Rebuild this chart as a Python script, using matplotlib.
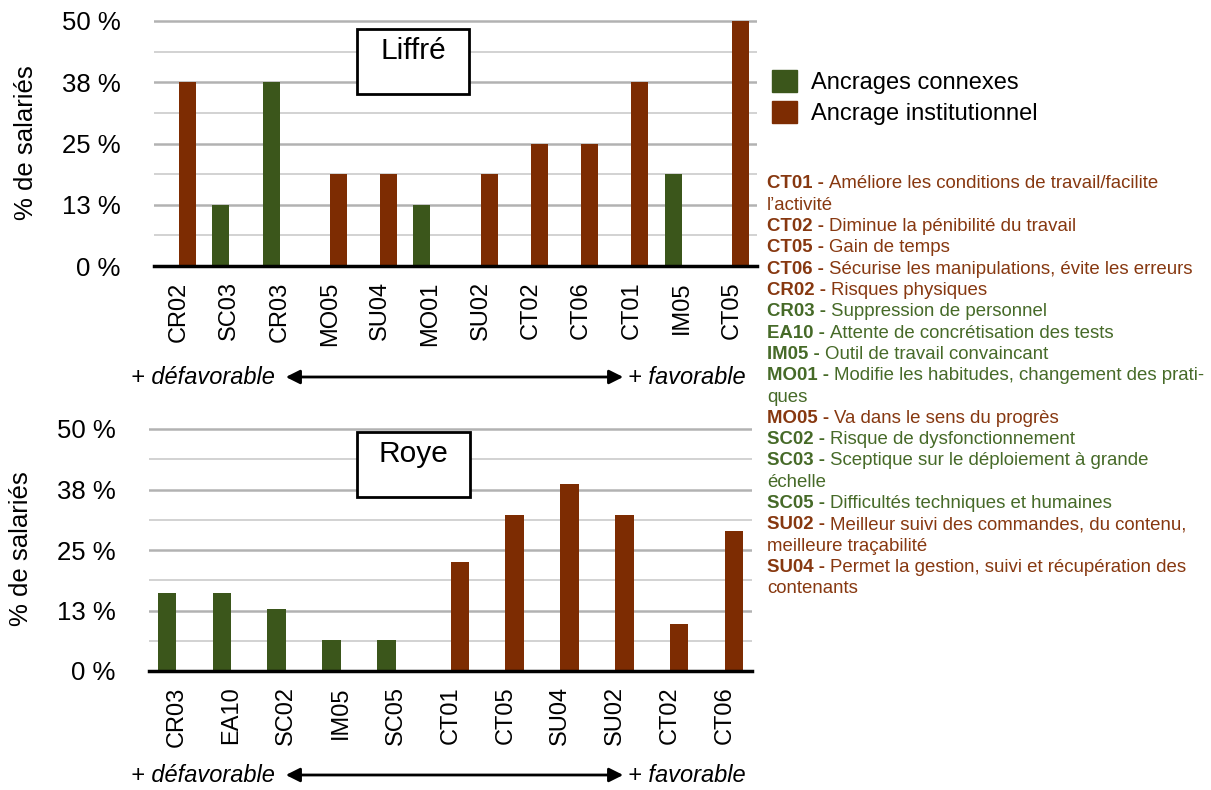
import numpy as np
import matplotlib
matplotlib.use("Agg")
import matplotlib.pyplot as plt
from matplotlib.patches import Patch, Rectangle, FancyArrowPatch

plt.rcParams['font.family'] = ['Liberation Sans', 'DejaVu Sans']

# ------------------------------------------------------------
# Data (% de salariés)
# ------------------------------------------------------------
cats_liffre = ['CR02', 'SC03', 'CR03', 'MO05', 'SU04', 'MO01',
               'SU02', 'CT02', 'CT06', 'CT01', 'IM05', 'CT05']
connexes_liffre = [0, 12.5, 37.5, 0, 0, 12.5, 0, 0, 0, 0, 18.75, 0]
instit_liffre = [37.5, 0, 0, 18.75, 18.75, 0, 18.75, 25, 25, 37.5, 0, 50]

cats_roye = ['CR03', 'EA10', 'SC02', 'IM05', 'SC05', 'CT01',
             'CT05', 'SU04', 'SU02', 'CT02', 'CT06']
connexes_roye = [16.1, 16.1, 12.9, 6.5, 6.5, 0, 0, 0, 0, 0, 0]
instit_roye = [0, 0, 0, 0, 0, 22.6, 32.3, 38.7, 32.3, 9.7, 29.0]

major_ticks = [0, 12.5, 25, 37.5, 50]
major_labels = ['0 %', '13 %', '25 %', '38 %', '50 %']
minor_ticks = [6.25, 18.75, 31.25, 43.75]

series_names = ['Ancrages connexes', 'Ancrage institutionnel']

code_list = ['CT01', 'CT02', 'CT05', 'CT06', 'CR02', 'CR03', 'EA10', 'IM05',
             'MO01', 'MO05', 'SC02', 'SC03', 'SC05', 'SU02', 'SU04']
code_text = ['Améliore les conditions de travail/facilite\nl’activité',
             'Diminue la pénibilité du travail',
             'Gain de temps',
             'Sécurise les manipulations, évite les erreurs',
             'Risques physiques',
             'Suppression de personnel',
             'Attente de concrétisation des tests',
             'Outil de travail convaincant',
             'Modifie les habitudes, changement des prati-\nques',
             'Va dans le sens du progrès',
             'Risque de dysfonctionnement',
             'Sceptique sur le déploiement à grande\néchelle',
             'Difficultés techniques et humaines',
             'Meilleur suivi des commandes, du contenu,\nmeilleure traçabilité',
             'Permet la gestion, suivi et récupération des\ncontenants']
code_group = ['inst', 'inst', 'inst', 'inst', 'inst', 'conn', 'conn', 'conn',
              'conn', 'inst', 'conn', 'conn', 'conn', 'inst', 'inst']

GREEN = '#3b561b'
BROWN = '#7d2c02'
GREEN_TXT = '#466a28'
BROWN_TXT = '#873810'

W, H = 1211, 790
fig = plt.figure(figsize=(W / 100, H / 100), dpi=100)


def fx(x):
    return x / W


def fy(y):
    return 1 - y / H


def panel(rect, cats, conn, inst, title, box):
    ax = fig.add_axes(rect)
    x = np.arange(len(cats))
    w = 0.34
    ax.bar(x - w / 2, conn, width=w, color=GREEN, zorder=3)
    ax.bar(x + w / 2, inst, width=w, color=BROWN, zorder=3)
    ax.set_xlim(-0.5, len(cats) - 0.5)
    ax.set_ylim(0, 50.4)
    ax.set_yticks(major_ticks)
    ax.set_yticklabels(major_labels)
    ax.set_yticks(minor_ticks, minor=True)
    ax.grid(axis='y', which='major', color='#b2b2b2', lw=1.8)
    ax.grid(axis='y', which='minor', color='#c6c6c6', lw=1.1)
    ax.set_axisbelow(True)
    ax.set_xticks(x)
    ax.set_xticklabels(cats, rotation=90, fontsize=17)
    ax.tick_params(axis='x', length=0, pad=11)
    ax.tick_params(axis='y', which='both', length=0, pad=24, labelsize=18.5)
    for s in ['top', 'right', 'left']:
        ax.spines[s].set_visible(False)
    ax.spines['bottom'].set_linewidth(2.5)
    ax.spines['bottom'].set_zorder(4)
    ax.set_ylabel('% de salariés', fontsize=18.5)
    ax.yaxis.set_label_coords(-0.192, 0.5)
    # title box
    x0, y0, x1, y1 = box
    fig.add_artist(Rectangle((fx(x0), fy(y1)), fx(x1 - x0), (y1 - y0) / H,
                             transform=fig.transFigure, fill=True, fc='white',
                             ec='black', lw=2, zorder=5))
    fig.text(fx((x0 + x1) / 2), fy(y0 + 30), title, fontsize=21.5,
             ha='center', va='baseline', zorder=6)
    return ax


panel([fx(154), fy(266), fx(603), 245 / H * 50.4 / 50],
      cats_liffre, connexes_liffre, instit_liffre, 'Liffré', (357, 29, 469, 94))
panel([fx(149), fy(671), fx(603), 242 / H * 50.4 / 50],
      cats_roye, connexes_roye, instit_roye, 'Roye', (357, 432, 470, 497))

# favourability arrows
for yy in [377, 775]:
    fig.text(fx(275), fy(yy), '+ défavorable', fontsize=17, style='italic',
             ha='right', va='center')
    fig.text(fx(628), fy(yy), '+ favorable', fontsize=17, style='italic',
             ha='left', va='center')
    fig.add_artist(FancyArrowPatch((fx(283), fy(yy)), (fx(626), fy(yy)),
                                   transform=fig.transFigure,
                                   arrowstyle='<|-|>', mutation_scale=21,
                                   lw=2, color='black'))

# legend
handles = [Patch(color=GREEN), Patch(color=BROWN)]
fig.legend(handles, series_names, loc='upper left',
           bbox_to_anchor=(fx(772), fy(70)), frameon=False, fontsize=17,
           handlelength=1.05, handleheight=1.05, handletextpad=0.6,
           labelspacing=0.3, borderpad=0, borderaxespad=0)

# code descriptions
renderer = fig.canvas.get_renderer()
line = 0
x_left = 767
for code, txt, grp in zip(code_list, code_text, code_group):
    col = BROWN_TXT if grp == 'inst' else GREEN_TXT
    parts = txt.split('\n')
    yb = 188.5 + line * 21.3
    t = fig.text(fx(x_left), fy(yb), code + ' - ', fontsize=13.4,
                 weight='bold', color=col, va='baseline')
    bb = t.get_window_extent(renderer=renderer)
    fig.text(bb.x1 / W, fy(yb), parts[0], fontsize=13.4, color=col,
             va='baseline')
    line += 1
    for p in parts[1:]:
        fig.text(fx(x_left), fy(188.5 + line * 21.3), p, fontsize=13.4,
                 color=col, va='baseline')
        line += 1

fig.savefig('out.png', dpi=100)
